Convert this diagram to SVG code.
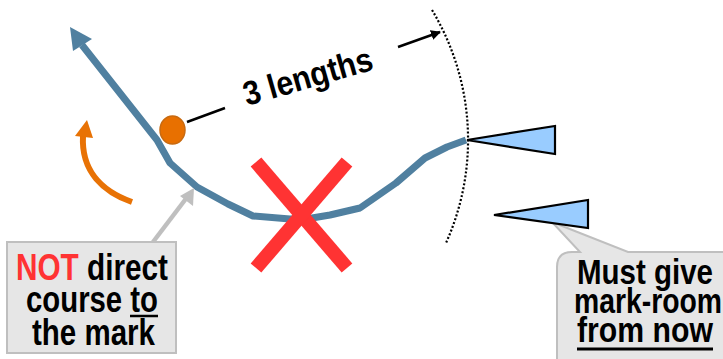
<svg xmlns="http://www.w3.org/2000/svg" width="723" height="359" viewBox="0 0 723 359">
<style>
.lbl{font-family:"Liberation Sans",Arial,sans-serif;font-weight:bold;fill:#000}
.boat{fill:#99ccff;stroke:#000;stroke-width:2.2;stroke-linejoin:miter}
.callout{fill:#e6e6e6;stroke:#bfbfbf;stroke-width:2}
</style>
<defs>
<marker id="ah" viewBox="0 0 10 10" refX="9" refY="5" markerWidth="4" markerHeight="4" orient="auto" markerUnits="strokeWidth">
<path d="M0,0 L10,5 L0,10 Z" fill="#000"/>
</marker>
</defs>
<rect width="723" height="359" fill="#fff"/>
<g id="connectors">
<path id="course" d="M82,45 L157,140 L170,163 L197,187 L228,204 L253,216 L290,219 L312,218 L330,215 L360,208 L396,183 L425,158 L447,147 L466,140" fill="none" stroke="#5080a0" stroke-width="7" stroke-linejoin="round"/>
<polygon points="70,27 73,51 92,39" fill="#5080a0"/>
<path id="turn" d="M132,202 C104,192 81,172 83,136" fill="none" stroke="#e87205" stroke-width="6"/>
<polygon points="87,120 75,136 93,138" fill="#e87205"/>
<line x1="187" y1="122" x2="225" y2="108" stroke="#000" stroke-width="2.5"/>
<line x1="398" y1="47" x2="440" y2="32" stroke="#000" stroke-width="2.5" marker-end="url(#ah)"/>
<path id="zone" d="M432,10 A252,252 0 0 1 446,243" fill="none" stroke="#000" stroke-width="2.2" stroke-dasharray="2 2"/>
<line x1="153" y1="242" x2="188" y2="196" stroke="#bfbfbf" stroke-width="4.5"/>
<polygon points="194,188 180,196 193,206" fill="#bfbfbf"/>
</g>
<g id="cross">
<line x1="256" y1="162" x2="347" y2="268" stroke="#ff3333" stroke-width="14"/>
<line x1="347" y1="162" x2="256" y2="268" stroke="#ff3333" stroke-width="14"/>
</g>
<g id="mark">
<ellipse cx="172.5" cy="130" rx="12.5" ry="14" fill="#e87000" stroke="#c86a10" stroke-width="1.5"/>
</g>
<g id="callout-right">
<path class="callout" d="M572,252 L580,252 L552,222 L628,252 L740,252 L740,380 L557,380 L557,267 Q557,252 572,252 Z"/>
<text class="lbl" x="645" y="284" font-size="35" text-anchor="middle" textLength="136" lengthAdjust="spacingAndGlyphs">Must give</text>
<text class="lbl" x="648" y="313" font-size="35" text-anchor="middle" textLength="148" lengthAdjust="spacingAndGlyphs">mark-room</text>
<text class="lbl" x="645" y="342" font-size="35" text-anchor="middle" textLength="136" lengthAdjust="spacingAndGlyphs">from now</text>
<line x1="577" y1="349" x2="713" y2="349" stroke="#000" stroke-width="3"/>
</g>
<g id="boat-leader">
<polygon class="boat" points="467,140 555,126 555,154"/>
</g>
<g id="boat-trailer">
<polygon class="boat" points="494,215 588,200 588,228"/>
</g>
<g id="length-label">
<text class="lbl" transform="translate(247,106) rotate(-16)" font-size="34" textLength="133" lengthAdjust="spacingAndGlyphs">3 lengths</text>
</g>
<g id="callout-left">
<rect class="callout" x="7" y="242" width="169" height="111"/>
<text class="lbl" x="92" y="280" font-size="36" text-anchor="middle" textLength="152" lengthAdjust="spacingAndGlyphs"><tspan fill="#ff3333">NOT</tspan> direct</text>
<text class="lbl" x="92" y="312" font-size="36" text-anchor="middle" textLength="132" lengthAdjust="spacingAndGlyphs">course to</text>
<line x1="130" y1="316" x2="158" y2="316" stroke="#000" stroke-width="2.5"/>
<text class="lbl" x="93.5" y="345" font-size="36" text-anchor="middle" textLength="123" lengthAdjust="spacingAndGlyphs">the mark</text>
</g>
</svg>
